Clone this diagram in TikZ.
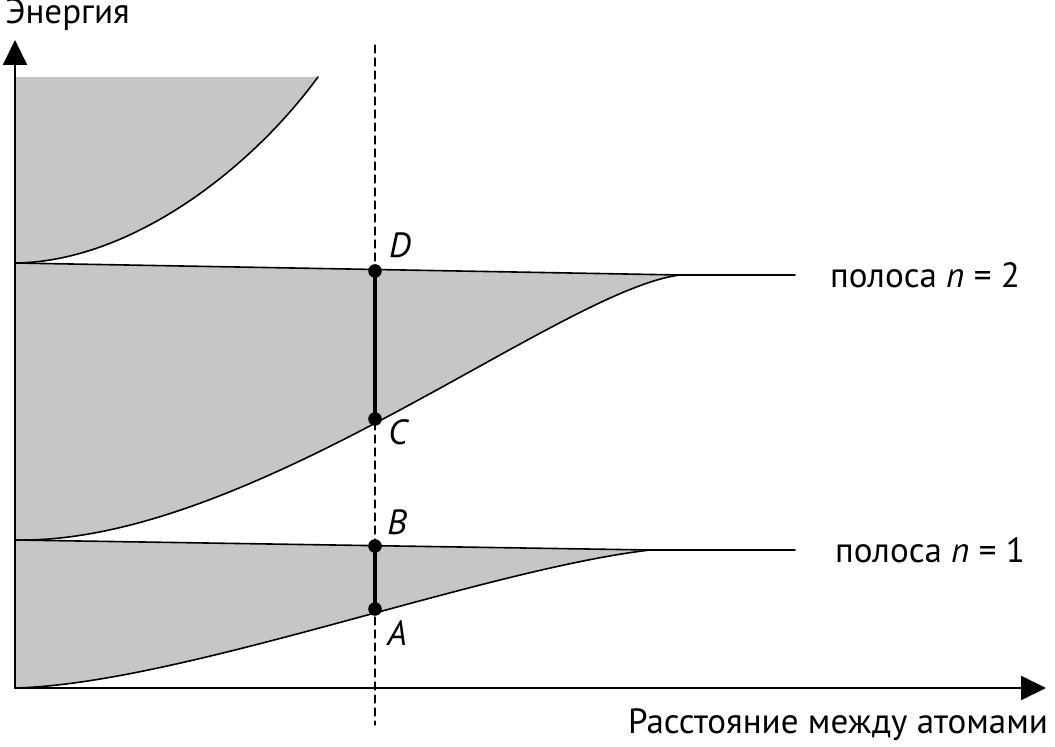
\documentclass[tikz,border=0pt]{standalone}
\usepackage{fontspec}
\setmainfont{PT Sans}
\usetikzlibrary{arrows.meta}
\definecolor{bandgray}{HTML}{C6C6C6}
\tikzset{
  axis/.style={line width=1pt,-{Triangle[length=12.5pt,width=12pt]}},
  edge/.style={line width=0.8pt},
  band/.style={fill=bandgray},
  gap/.style={line width=1.6pt},
  dot/.style={fill=black}
}
\begin{document}
\begin{tikzpicture}[x=0.5pt,y=-0.5pt,line join=round,line cap=round,font=\fontsize{17.5}{21}\selectfont]
	\useasboundingbox (0,0) rectangle (1055,747);
	\coordinate (O) at (15,688);
	\coordinate (Ytip) at (15,40);
	\coordinate (Xtip) at (1046,688);
	\coordinate (D) at (375,271); % Approx position
	\coordinate (C) at (375,419); % Approx position
	\coordinate (B) at (375,546); % Approx position
	\coordinate (A) at (375,609); % Approx position
	
	% bands
	\fill[band] (15,77) -- (318,77) .. controls (250,170) and (130,262) .. (15,263) -- cycle;
	\fill[band] (15,263) -- (680,275) .. controls (560,290) and (250,545) .. (15,540) -- cycle;
	\fill[band] (15,540) -- (650,550) .. controls (480,570) and (180,684) .. (15,688) -- cycle;
	
	\draw[edge] (15,263) .. controls (130,262) and (250,170) .. (318,77);
	\draw[edge] (15,263) -- (680,275) -- (795,275);
	\draw[edge] (15,540) .. controls (250,545) and (560,290) .. (680,275);
	\draw[edge] (15,540) -- (650,550) -- (795,550);
	\draw[edge] (15,688) .. controls (180,684) and (480,570) .. (650,550);
	
	\draw[line width=0.6pt,dash pattern=on 4pt off 2.5pt] (375,45) -- (375,725);
	
	\draw[axis] (O) -- (Ytip);
	\draw[axis] (O) -- (Xtip);
	
	\draw[gap] (D) -- (C);
	\draw[gap] (B) -- (A);
	\fill[dot] (D) circle(3.4pt) node (labD) at (400,245) {\itshape D};
	\fill[dot] (C) circle(3.4pt) node (labC) at (398,432) {\itshape C};
	\fill[dot] (B) circle(3.4pt) node (labB) at (397,522) {\itshape B};
	\fill[dot] (A) circle(3.4pt) node (labA) at (397,633) {\itshape A};
	
	\node[anchor=west,inner sep=0pt] (energy) at (5,15) {Энергия};
	\node (dist) at (838,725) {Расстояние между атомами};
	\node (n2) at (925,275) {полоса {\itshape n} = 2};
	\node (n1) at (930,550) {полоса {\itshape n} = 1};
\end{tikzpicture}
\end{document}
